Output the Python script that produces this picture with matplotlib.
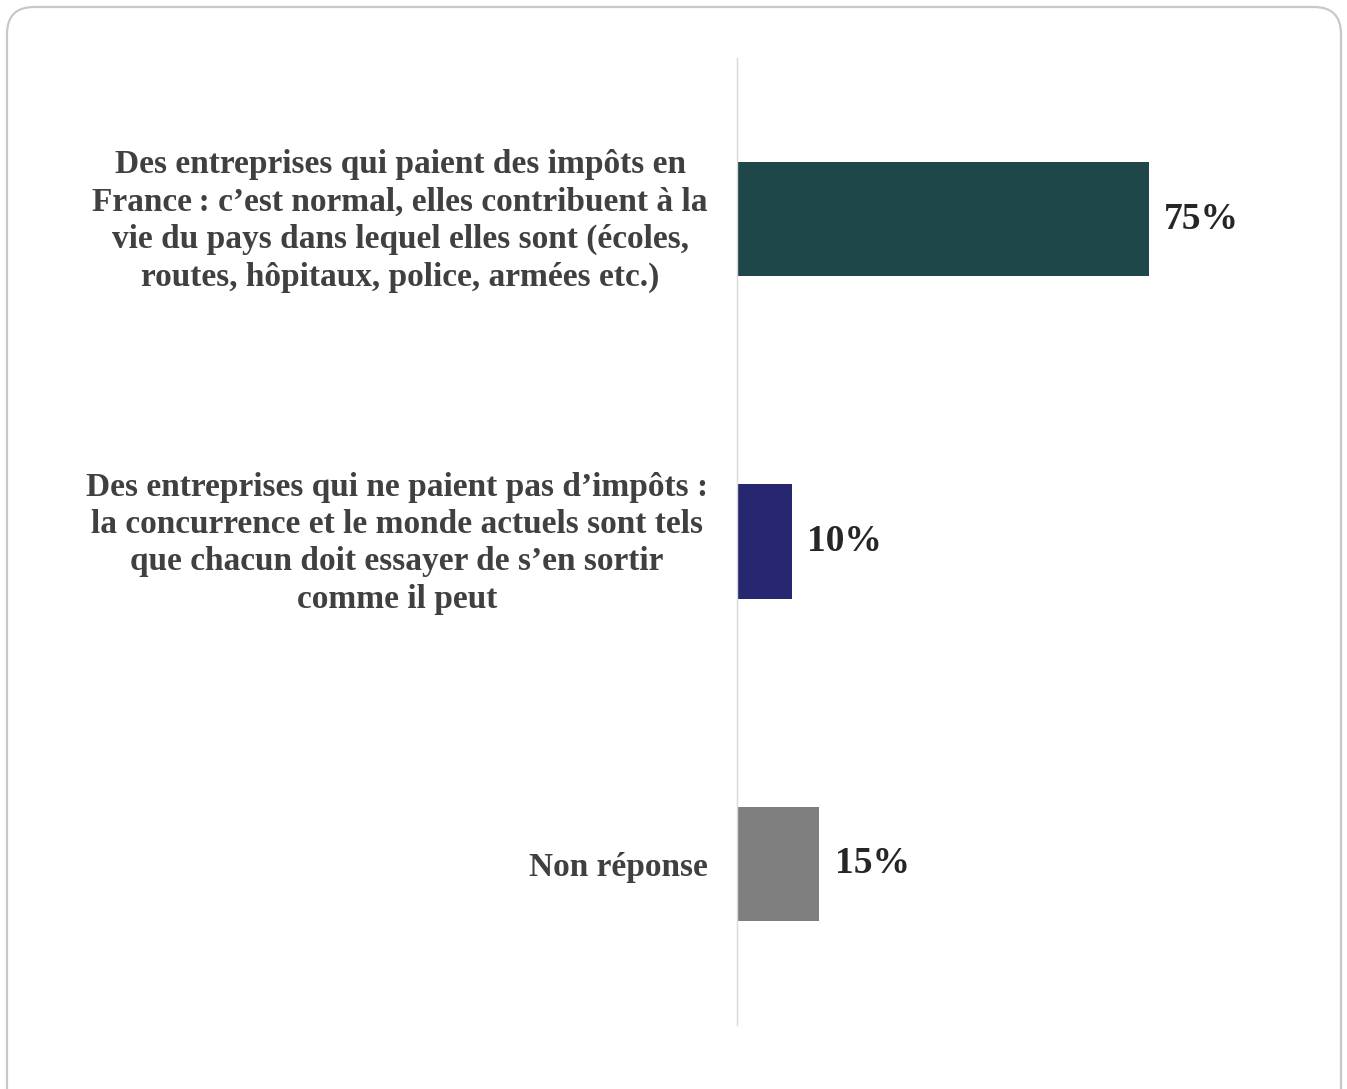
import matplotlib
matplotlib.use("Agg")
import matplotlib.pyplot as plt
import matplotlib.transforms as mtransforms
from matplotlib.patches import FancyBboxPatch

categories = [
    "Des entreprises qui paient des impôts en\nFrance\u202f: c\u2019est normal, elles contribuent à la\nvie du pays dans lequel elles sont (écoles,\nroutes, hôpitaux, police, armées etc.)",
    "Des entreprises qui ne paient pas d\u2019impôts :\nla concurrence et le monde actuels sont tels\nque chacun doit essayer de s\u2019en sortir\ncomme il peut",
    "Non réponse",
]
values = [75, 10, 15]
value_labels = ["75%", "10%", "15%"]
colors = ["#1F4649", "#262671", "#7F7F7F"]

plt.rcParams['font.family'] = ['Liberation Serif', 'DejaVu Serif']

fig = plt.figure(figsize=(13.47, 10.89), dpi=100)
fig.patch.set_facecolor("white")

border = FancyBboxPatch((7/1347, -0.05), (1341-7)/1347, 1 - 7/1089 + 0.05,
                        boxstyle="round,pad=0,rounding_size=0.02",
                        transform=fig.transFigure, facecolor="none",
                        edgecolor="#C8C8C8", linewidth=1.6, mutation_aspect=1347/1089,
                        zorder=-1)
fig.patches.append(border)

ax = fig.add_axes([737/1347, 1 - 1025/1089, (1286-737)/1347, (1025-58)/1089])
ax.set_facecolor("none")
ypos = list(range(len(categories)))
ax.barh(ypos, values, height=0.355, color=colors, zorder=2)
ax.set_xlim(0, 100)
ax.set_ylim(2.5, -0.5)
ax.set_yticks(ypos)
ax.set_yticklabels(categories, fontsize=24, fontweight='bold', color="#404040",
                   multialignment='center', linespacing=1.27)
ax.tick_params(axis='y', length=0, pad=21)
ax.set_xticks([])

shift = mtransforms.ScaledTranslation(0, 5/100, fig.dpi_scale_trans)
for lbl, n in zip(ax.get_yticklabels(), categories):
    if "\n" in n:
        lbl.set_transform(lbl.get_transform() + shift)

for s in ["top", "right", "bottom"]:
    ax.spines[s].set_visible(False)
ax.spines["left"].set_color("#D9D9D9")
ax.spines["left"].set_linewidth(1.0)

for y, v, lab in zip(ypos, values, value_labels):
    ax.annotate(lab, xy=(v, y), xytext=(11, 0), textcoords="offset points",
                ha="left", va="center", fontsize=27, fontweight="bold", color="#262626")

fig.savefig("out.png", dpi=100, facecolor="white")
